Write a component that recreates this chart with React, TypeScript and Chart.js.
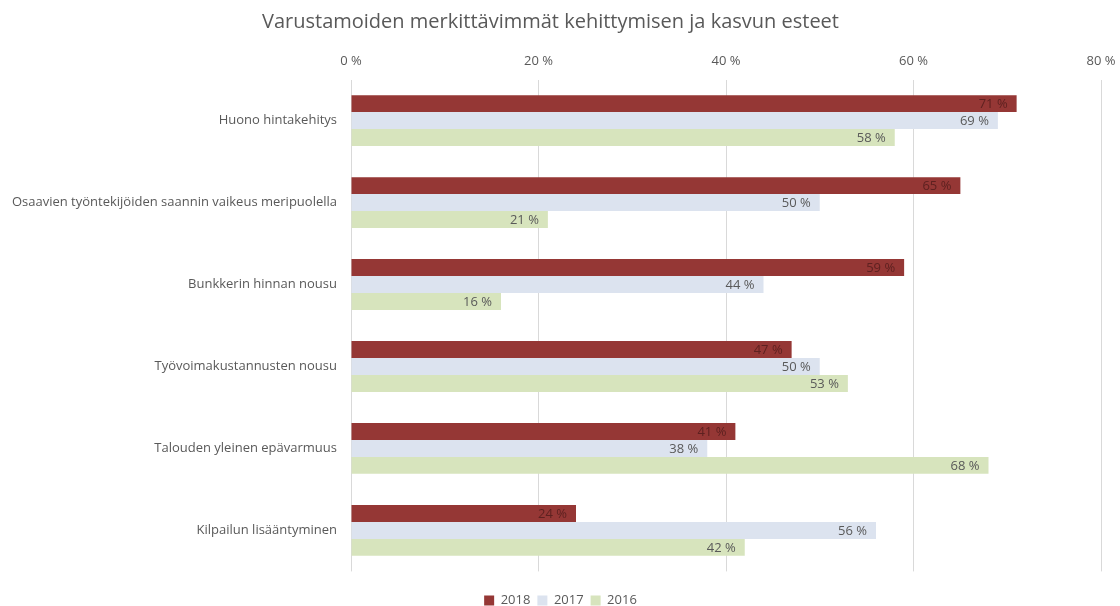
import React, { useEffect, useRef } from "react";
import { Chart, registerables } from "chart.js";

Chart.register(...registerables);

const categories = [
  "Huono hintakehitys",
  "Osaavien työntekijöiden saannin vaikeus meripuolella",
  "Bunkkerin hinnan nousu",
  "Työvoimakustannusten nousu",
  "Talouden yleinen epävarmuus",
  "Kilpailun lisääntyminen",
];
const values2018 = [71, 65, 59, 47, 41, 24];
const values2017 = [69, 50, 44, 50, 38, 56];
const values2016 = [58, 21, 16, 53, 68, 42];
const seriesLabels = ["2018", "2017", "2016"];
const xTicks = [0, 20, 40, 60, 80];

const FONT = "'Open Sans', 'Noto Sans', sans-serif";

const labelPlugin = {
  id: "barLabels",
  afterLayout(chart: any) {
    if (chart.legend) {
      chart.legend.left += 10;
      chart.legend.right += 10;
    }
  },
  afterDatasetsDraw(chart: any) {
    const ctx = chart.ctx;
    ctx.save();
    ctx.font = `13px ${FONT}`;
    ctx.textAlign = "right";
    ctx.textBaseline = "middle";
    chart.data.datasets.forEach((ds: any, di: number) => {
      const meta = chart.getDatasetMeta(di);
      meta.data.forEach((bar: any, i: number) => {
        ctx.fillStyle = di === 0 ? "#5e2120" : "#595959";
        ctx.fillText(`${ds.data[i]} %`, bar.x - 9, bar.y + 1);
      });
    });
    ctx.restore();
  },
};

export default function App() {
  const ref = useRef<HTMLCanvasElement>(null);
  useEffect(() => {
    document.body.style.margin = "0";
    const chart = new Chart(ref.current!, {
      type: "bar",
      data: {
        labels: categories,
        datasets: [
          { label: seriesLabels[0], data: values2018, backgroundColor: "#953735" },
          { label: seriesLabels[1], data: values2017, backgroundColor: "#dce3ef" },
          { label: seriesLabels[2], data: values2016, backgroundColor: "#d7e4bd" },
        ],
      },
      options: {
        indexAxis: "y",
        animation: false,
        responsive: false,
        maintainAspectRatio: false,
        layout: { padding: { left: 0, right: 19, top: 0, bottom: -11 } },
        datasets: { bar: { categoryPercentage: 0.62, barPercentage: 1 } },
        scales: {
          x: {
            position: "top",
            min: 0,
            max: 80,
            afterBuildTicks: (axis: any) => {
              axis.ticks = xTicks.map((v) => ({ value: v }));
            },
            afterFit: (axis: any) => {
              axis.paddingRight = 0;
              axis.paddingLeft = 0;
            },
            ticks: {
              callback: (v: any) => `${v} %`,
              color: "#595959",
              font: { family: FONT, size: 13 },
              padding: 11,
            },
            grid: { color: "#d9d9d9", drawTicks: false, lineWidth: 1 },
            border: { display: false },
          },
          y: {
            afterFit: (axis: any) => {
              axis.width = 351;
            },
            ticks: {
              color: "#595959",
              font: { family: FONT, size: 13 },
              padding: 6,
            },
            grid: { display: false },
            border: { display: false },
          },
        },
        plugins: {
          title: {
            display: true,
            text: "Varustamoiden merkittävimmät kehittymisen ja kasvun esteet",
            color: "#595959",
            font: { family: FONT, size: 20, weight: "normal" },
            padding: { top: 10, bottom: 8 },
          },
          legend: {
            position: "bottom",
            title: {
              display: true,
              text: " ",
              font: { size: 13 },
              padding: 0,
            },
            labels: {
              color: "#595959",
              font: { family: FONT, size: 13 },
              boxWidth: 10,
              boxHeight: 10,
              padding: 7,
            },
          },
          tooltip: { enabled: false },
        },
      },
      plugins: [labelPlugin],
    });
    return () => chart.destroy();
  }, []);
  return <canvas ref={ref} width={1120} height={606} style={{ display: "block" }} />;
}
